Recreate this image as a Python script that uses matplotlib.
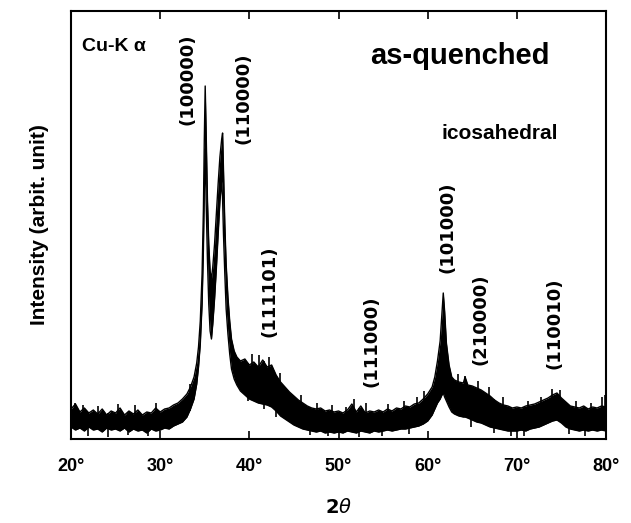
import matplotlib
matplotlib.use("Agg")
import matplotlib.pyplot as plt
import numpy as np

# 2-theta positions (deg) and the upper / lower edge of the noisy XRD trace (arb. units)
two_theta = [20.0, 20.5, 21.0, 21.5, 22.0, 22.5, 23.0, 23.5, 24.0, 24.5, 25.0, 25.5,
             26.0, 26.5, 27.0, 27.5, 28.0, 28.5, 29.0, 29.5, 30.0, 30.5, 31.0, 31.5,
             32.0, 32.5, 33.0, 33.4, 33.8, 34.1, 34.3, 34.5, 34.7, 34.85, 34.95, 35.05,
             35.15, 35.3, 35.45, 35.6, 35.75, 35.9, 36.1, 36.3, 36.5, 36.7, 36.9, 37.0,
             37.1, 37.25, 37.4, 37.6, 37.8, 38.0, 38.3, 38.6, 39.0, 39.5, 40.0, 40.5,
             41.0, 41.5, 42.0, 42.5, 43.0, 43.5, 44.0, 44.5, 45.0, 45.5, 46.0, 46.5,
             47.0, 47.5, 48.0, 48.5, 49.0, 49.5, 50.0, 50.5, 51.0, 51.5, 52.0, 52.5,
             53.0, 53.5, 54.0, 54.5, 55.0, 55.5, 56.0, 56.5, 57.0, 57.5, 58.0, 58.5,
             59.0, 59.5, 60.0, 60.5, 60.8, 61.1, 61.4, 61.6, 61.75, 61.9, 62.1, 62.4,
             62.7, 63.0, 63.5, 64.0, 64.2, 64.5, 65.0, 65.5, 66.0, 66.5, 67.0, 67.5,
             68.0, 68.5, 69.0, 69.5, 70.0, 70.5, 71.0, 71.5, 72.0, 72.5, 73.0, 73.5,
             74.0, 74.5, 75.0, 75.5, 76.0, 76.5, 77.0, 77.5, 78.0, 78.5, 79.0, 79.5, 80.0]

upper = [30, 35, 27, 31, 26, 29, 25, 30, 24, 28, 26, 31,
         24, 28, 25, 29, 24, 27, 26, 31, 27, 30, 31, 34,
         36, 40, 45, 52, 62, 76, 92, 118, 165, 230, 300, 353,
         310, 240, 195, 168, 160, 172, 195, 225, 255, 282, 300, 306,
         270, 215, 175, 142, 118, 100, 88, 82, 78, 80, 74, 77,
         72, 79, 72, 74, 64, 57, 52, 47, 43, 39, 36, 33,
         31, 30, 31, 28, 29, 27, 28, 26, 29, 35, 27, 33,
         26, 28, 27, 29, 27, 30, 28, 31, 30, 33, 32, 35,
         36, 40, 45, 52, 62, 78, 98, 125, 146, 128, 96, 74,
         62, 59, 57, 56, 62, 54, 53, 51, 49, 46, 43, 39,
         36, 34, 33, 31, 32, 31, 33, 34, 35, 37, 39, 41,
         44, 46, 41, 37, 33, 32, 31, 33, 30, 32, 31, 33, 32]

lower = [12, 9, 11, 8, 12, 9, 10, 7, 11, 9, 10, 8,
         11, 7, 10, 8, 9, 6, 10, 8, 9, 11, 10, 13,
         15, 17, 22, 30, 40, 55, 72, 95, 135, 190, 250, 290,
         240, 180, 135, 108, 100, 115, 140, 170, 205, 238, 258, 240,
         205, 165, 130, 105, 85, 70, 60, 54, 48, 44, 40, 38,
         36, 35, 34, 32, 28, 23, 20, 17, 14, 12, 10, 9,
         8, 7, 8, 6, 7, 6, 7, 6, 8, 7, 6, 8,
         7, 6, 8, 7, 8, 9, 8, 9, 10, 10, 11, 12,
         13, 15, 18, 24, 30, 36, 40, 44, 46, 42, 38, 32,
         27, 25, 23, 22, 22, 21, 19, 17, 16, 14, 12, 11,
         10, 9, 8, 8, 8, 9, 8, 10, 11, 12, 14, 16,
         18, 19, 16, 12, 10, 9, 8, 9, 8, 9, 8, 9, 8]

# single noise spikes that stick out of the band
spike_up_x = [20.45, 21.35, 23.0, 25.3, 27.2, 29.5, 33.3, 40.3, 41.1, 42.2, 43.4,
              45.8, 47.6, 49.3, 50.8, 51.7, 53.1, 55.6, 57.3, 58.8, 59.6,
              63.4, 64.2, 65.6, 66.9, 68.4, 71.2, 72.7, 73.9, 74.8, 76.6, 78.3, 79.6, 79.9]
spike_up_y = [36, 34, 33, 35, 34, 36, 55, 85, 84, 82, 66,
              44, 36, 34, 32, 40, 36, 35, 38, 42, 48,
              65, 63, 58, 52, 42, 38, 42, 50, 49, 38, 36, 42, 44]
spike_dn_x = [21.9, 24.2, 26.4, 28.6, 39.8, 41.6, 43.0, 46.8, 48.8, 52.3, 54.9, 57.9,
              64.9, 67.4, 69.3, 70.8, 75.9, 77.7]
spike_dn_y = [3, 2, 4, 3, 38, 30, 22, 4, 3, 2, 3, 5,
              12, 6, 3, 3, 5, 3]

# reflection labels (index, 2theta, height)
peak_labels = ["(100000)", "(110000)", "(111101)", "(111000)", "(101000)", "(210000)", "(110010)"]
label_x = [33.1, 39.4, 42.3, 53.65, 62.2, 65.9, 74.2]
label_y = [360, 341, 148, 98, 212, 120, 116]

x_ticks = [20, 30, 40, 50, 60, 70, 80]

fig = plt.figure(figsize=(6.31, 5.23), dpi=100)
ax = fig.add_axes([71 / 631, 1 - 439 / 523, 535 / 631, 428 / 523])

ax.fill_between(two_theta, lower, upper, color="black", linewidth=0)
ax.plot(two_theta, upper, color="black", linewidth=1.0)
ax.plot(two_theta, lower, color="black", linewidth=1.0)

# spikes start inside the band
up_base = np.interp(spike_up_x, two_theta, lower)
dn_base = np.interp(spike_dn_x, two_theta, upper)
ax.vlines(spike_up_x, up_base, spike_up_y, color="black", linewidth=1.2)
ax.vlines(spike_dn_x, spike_dn_y, dn_base, color="black", linewidth=1.2)

ax.set_xlim(20, 80)
ax.set_ylim(0, 428)

for s in ax.spines.values():
    s.set_linewidth(1.5)

ax.set_xticks(x_ticks)
ax.set_xticklabels([f"{t}°" for t in x_ticks], fontfamily="Liberation Sans",
                   fontweight="bold", fontsize=13)
ax.tick_params(axis="x", direction="in", top=True, length=6, width=1.2, pad=14)
ax.set_yticks([])

ax.set_xlabel("2$\\theta$", fontsize=14, fontweight="bold", labelpad=16)
ax.set_ylabel("Intensity (arbit. unit)", fontfamily="Liberation Sans",
              fontweight="bold", fontsize=15, labelpad=16)

for lab, lx, ly in zip(peak_labels, label_x, label_y):
    ax.text(lx, ly, lab, rotation=90, ha="center", va="center",
            fontsize=13, fontweight="bold", fontfamily="DejaVu Sans")

ax.text(21.2, 393, "Cu-K α", ha="left", va="center", fontsize=14,
        fontweight="bold", fontfamily="Liberation Sans")
ax.text(53.5, 383, "as-quenched", ha="left", va="center", fontsize=21,
        fontweight="bold", fontfamily="Liberation Sans")
ax.text(61.6, 306, "icosahedral", ha="left", va="center", fontsize=15,
        fontweight="bold", fontfamily="Liberation Sans")

fig.savefig("out.png", dpi=100)
